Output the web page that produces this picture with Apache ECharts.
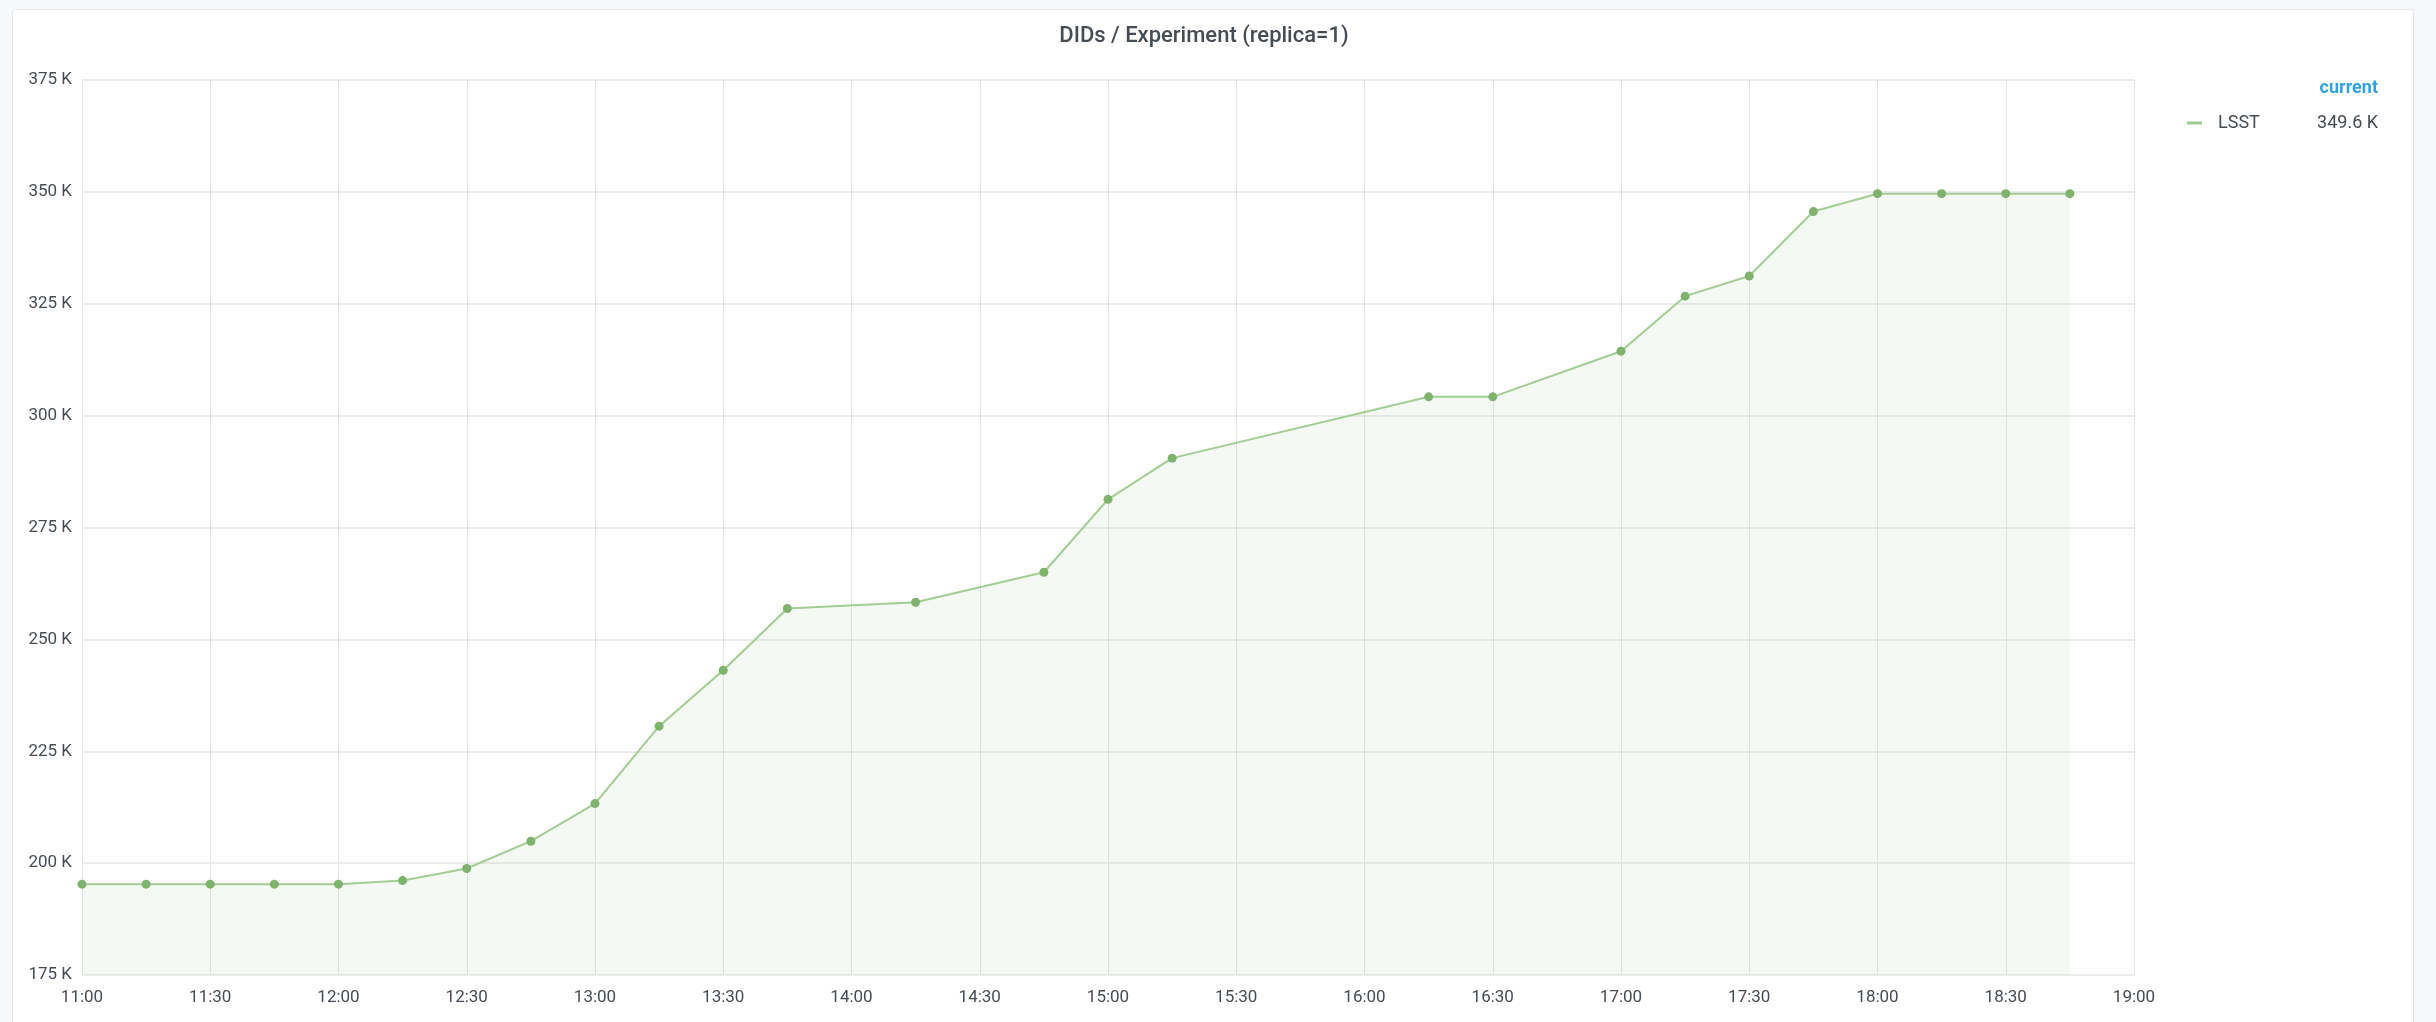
<!DOCTYPE html>
<html>
<head>
<meta charset="utf-8">
<script src="https://cdn.jsdelivr.net/npm/echarts@6/dist/echarts.min.js"></script>
<style>
html,body{margin:0;padding:0;background:#f7f8fa;}
#c{width:2436px;height:1022px;}
</style>
</head>
<body>
<div id="c"></div>
<script>
// 15-minute time slots from 11:00 to 19:00
const categories = ['11:00','11:15','11:30','11:45','12:00','12:15','12:30','12:45',
  '13:00','13:15','13:30','13:45','14:00','14:15','14:30','14:45',
  '15:00','15:15','15:30','15:45','16:00','16:15','16:30','16:45',
  '17:00','17:15','17:30','17:45','18:00','18:15','18:30','18:45','19:00'];
// DIDs count in thousands (null = no sample)
const lsstValues = [195.3,195.3,195.3,195.3,195.3,196.1,198.8,204.9,
  213.3,230.6,243.1,256.9,null,258.3,null,265.0,
  281.3,290.5,null,null,null,304.2,304.2,null,
  314.4,326.7,331.2,345.6,349.6,349.6,349.6,349.6,null];
const yTicks = {min:175, max:375, step:25};
const seriesName = 'LSST';
const titleText = 'DIDs / Experiment (replica=1)';
const legendHeader = 'current';

const lastVal = lsstValues.filter(v => v !== null).slice(-1)[0];
const green = '#7eb26d';
const txt = '#464c54';
const font = 'Roboto, "Noto Sans", sans-serif';

const chart = echarts.init(document.getElementById('c'));
chart.setOption({
  backgroundColor: 'transparent',
  animation: false,
  textStyle: {fontFamily: font},
  title: {
    text: titleText,
    left: 1199, top: 20, textAlign: 'center',
    textStyle: {fontSize: 22, fontWeight: 500, color: txt, fontFamily: font}
  },
  graphic: [
    {type:'rect', z:-10, shape:{x:12.5, y:9.5, width:2401, height:1040, r:3},
      style:{fill:'#ffffff', stroke:'#e3e6ea', lineWidth:1}},
    {type:'text', x:2378, y:88, style:{text:legendHeader, align:'right', verticalAlign:'middle',
      fill:'#33a2e5', font:'bold 18px ' + font}},
    {type:'line', shape:{x1:2187, y1:123, x2:2202, y2:123},
      style:{stroke:'#9fcb8f', lineWidth:3}},
    {type:'text', x:2218, y:123, style:{text:seriesName, align:'left', verticalAlign:'middle',
      fill:txt, font:'18px ' + font}},
    {type:'text', x:2378, y:123, style:{text:lastVal.toFixed(1) + ' K', align:'right', verticalAlign:'middle',
      fill:txt, font:'18px ' + font}}
  ],
  grid: {left: 82, right: 302, top: 80, bottom: 47, containLabel: false},
  xAxis: {
    type: 'category', data: categories, boundaryGap: false,
    axisLine: {show: false}, axisTick: {show: false},
    axisLabel: {interval: 1, color: txt, fontSize: 17, margin: 14, fontFamily: font},
    splitLine: {show: true, interval: 1, lineStyle: {color: '#e6e6e6', width: 1}}
  },
  yAxis: {
    type: 'value', min: yTicks.min, max: yTicks.max, interval: yTicks.step,
    axisLine: {show: false}, axisTick: {show: false},
    axisLabel: {color: txt, fontSize: 17, margin: 10, fontFamily: font, formatter: v => v + ' K'},
    splitLine: {show: true, lineStyle: {color: '#ececec', width: 2}}
  },
  series: [{
    name: seriesName, type: 'line', data: lsstValues, connectNulls: true,
    symbol: 'circle', symbolSize: 9, showSymbol: true,
    itemStyle: {color: green},
    lineStyle: {color: '#a2cd93', width: 2},
    areaStyle: {color: 'rgba(126,178,109,0.11)'}
  }]
});
</script>
</body>
</html>
